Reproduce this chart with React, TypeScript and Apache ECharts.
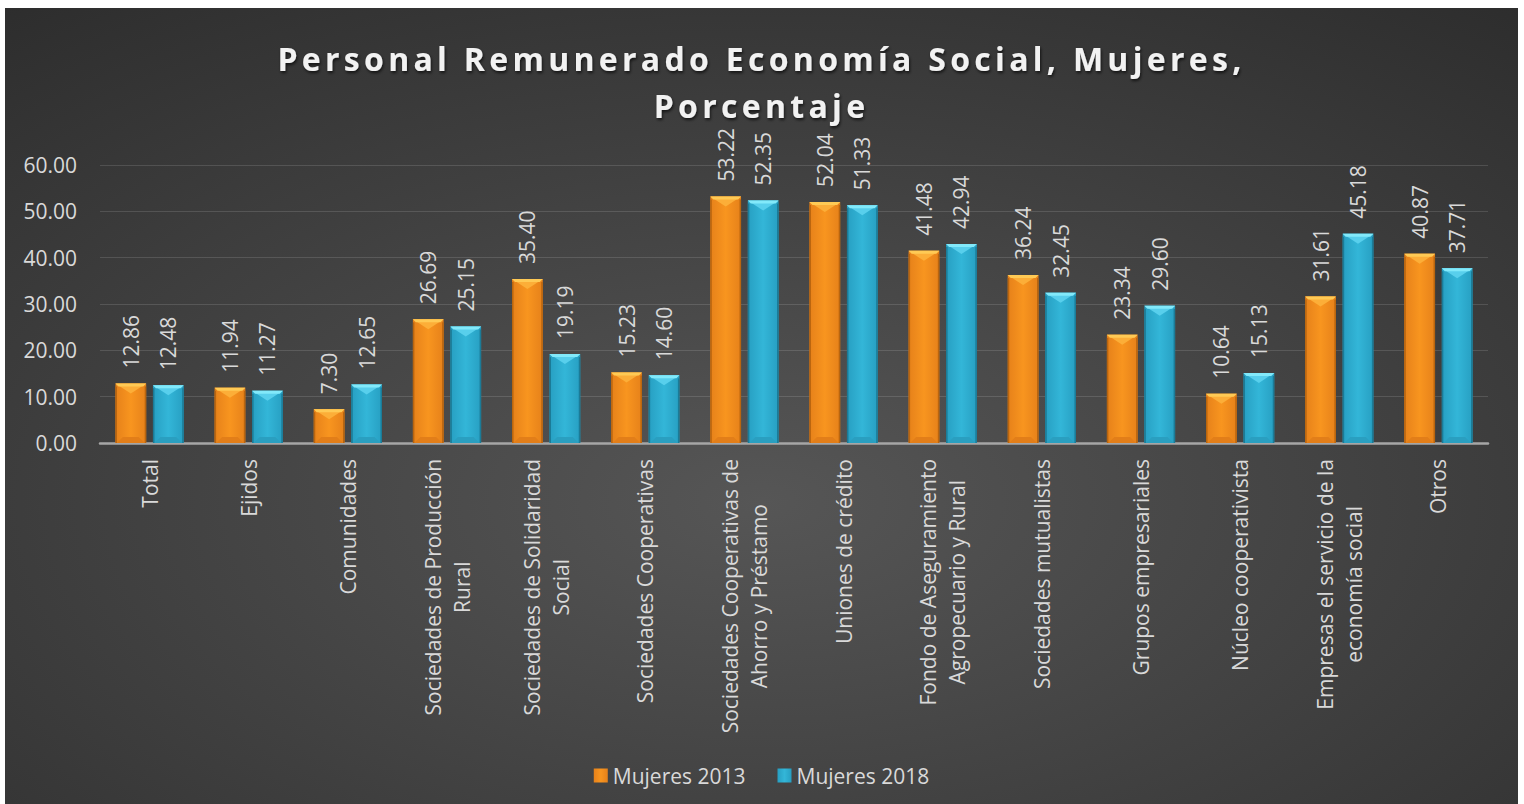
import React, { useEffect, useRef } from 'react';
import * as echarts from 'echarts';

const titleLines = ['Personal Remunerado Economía Social, Mujeres,', 'Porcentaje'];
const seriesNames = ['Mujeres 2013', 'Mujeres 2018'];
const categories = [
  'Total',
  'Ejidos',
  'Comunidades',
  'Sociedades de Producción\nRural',
  'Sociedades de Solidaridad\nSocial',
  'Sociedades Cooperativas',
  'Sociedades Cooperativas de\nAhorro y Préstamo',
  'Uniones de crédito',
  'Fondo de Aseguramiento\nAgropecuario y Rural',
  'Sociedades mutualistas',
  'Grupos empresariales',
  'Núcleo cooperativista',
  'Empresas el servicio de la\neconomía social',
  'Otros',
];
const mujeres2013 = [12.86, 11.94, 7.3, 26.69, 35.4, 15.23, 53.22, 52.04, 41.48, 36.24, 23.34, 10.64, 31.61, 40.87];
const mujeres2018 = [12.48, 11.27, 12.65, 25.15, 19.19, 14.6, 52.35, 51.33, 42.94, 32.45, 29.6, 15.13, 45.18, 37.71];
const yMin = 0;
const yMax = 60;
const yInterval = 10;

const FONT = '"Open Sans", "Noto Sans", sans-serif';
const LABEL_COLOR = '#d9d9d9';
const FS = 21;
const BAR_W = 0.31;
const BAR_GAP = 0.22;

const palettes = [
  { faceEdge: '#e6811a', face: '#f8951f', band: '#ffca55', chevron: '#fcae38', edge: '#b9650f', bottom: '#e27e19' },
  { faceEdge: '#279fc2', face: '#33b6d8', band: '#82e9fa', chevron: '#58cfec', edge: '#1b7b97', bottom: '#2a9fc0' },
];

function bevelSeries(name: string, values: number[], sIdx: number) {
  const pal = palettes[sIdx];
  const sign = sIdx === 0 ? -1 : 1;
  return {
    type: 'custom',
    name,
    silent: true,
    z: 5,
    data: values.map((v, i) => [i, v]),
    encode: { x: 0, y: 1 },
    renderItem: (params: any, api: any) => {
      const idx = api.value(0);
      const val = api.value(1);
      const bandW = api.size([1, 0])[0];
      const w = bandW * BAR_W;
      const g = w * BAR_GAP;
      const top = api.coord([idx, val]);
      const base = api.coord([idx, 0]);
      const cx = top[0] + (sign * (w + g)) / 2;
      const x0 = cx - w / 2;
      const x1 = cx + w / 2;
      const y0 = top[1];
      const y1 = base[1];
      const h = y1 - y0;
      const d = Math.min(10, h / 2);
      const bandH = Math.min(3, h / 4);
      const bd = Math.min(6, h / 3);
      return {
        type: 'group',
        children: [
          {
            type: 'polygon',
            shape: { points: [[x0 + 1.5, y1], [x1 - 1.5, y1], [x1 - 1.5 - bd, y1 - bd], [x0 + 1.5 + bd, y1 - bd]] },
            style: { fill: pal.bottom },
          },
          {
            type: 'polygon',
            shape: { points: [[x0, y0], [x1, y0], [cx, y0 + d]] },
            style: { fill: pal.chevron },
          },
          {
            type: 'polygon',
            shape: { points: [[x0, y0], [x1, y0], [x1 - bandH, y0 + bandH], [x0 + bandH, y0 + bandH]] },
            style: { fill: pal.band },
          },
          {
            type: 'rect',
            shape: { x: x0, y: y0 + bandH, width: 1.5, height: h - bandH },
            style: { fill: pal.edge },
          },
          {
            type: 'rect',
            shape: { x: x1 - 1.5, y: y0 + bandH, width: 1.5, height: h - bandH },
            style: { fill: pal.edge },
          },
        ],
      };
    },
  };
}

function barSeries(name: string, values: number[], sIdx: number) {
  const pal = palettes[sIdx];
  return {
    type: 'bar',
    name,
    data: values,
    barWidth: BAR_W * 100 + '%',
    barGap: BAR_GAP * 100 + '%',
    itemStyle: {
      color: new echarts.graphic.LinearGradient(0, 0, 1, 0, [
        { offset: 0, color: pal.faceEdge },
        { offset: 0.5, color: pal.face },
        { offset: 1, color: pal.faceEdge },
      ]),
    },
    z: 2,
    label: {
      show: true,
      position: 'top',
      rotate: 90,
      align: 'left',
      verticalAlign: 'middle',
      distance: 15,
      color: LABEL_COLOR,
      fontSize: FS,
      fontFamily: FONT,
      formatter: (p: any) => Number(p.value).toFixed(2),
    },
  };
}

export default function App() {
  const ref = useRef<HTMLDivElement>(null);
  useEffect(() => {
    if (!ref.current) return;
    const chart = echarts.init(ref.current, undefined, { renderer: 'svg' });
    const spaceTitle = () => {
      const texts = ref.current ? ref.current.querySelectorAll('text') : [];
      texts.forEach((t: any) => {
        const c = (t.textContent || '').trim();
        if (titleLines.includes(c)) t.style.letterSpacing = '4.3px';
      });
    };
    chart.setOption({
      animation: false,
      backgroundColor: new echarts.graphic.RadialGradient(0.5, 0.62, 1.0, [
        { offset: 0, color: '#565656' },
        { offset: 1, color: '#232323' },
      ]),
      title: {
        text: titleLines.join('\n'),
        left: 'center',
        top: 22,
        textStyle: {
          color: '#f2f2f2',
          fontFamily: FONT,
          fontWeight: 'bold',
          fontSize: 32,
          lineHeight: 47,
          textShadowColor: 'rgba(0,0,0,0.65)',
          textShadowBlur: 3,
          textShadowOffsetX: 1,
          textShadowOffsetY: 2,
        },
      },
      legend: {
        data: seriesNames,
        left: 'center',
        top: 752,
        itemWidth: 14,
        itemHeight: 14,
        itemGap: 32,
        icon: 'rect',
        textStyle: { color: LABEL_COLOR, fontSize: FS, fontFamily: FONT },
      },
      grid: { left: 95, right: 30, top: 157, bottom: 361 },
      xAxis: {
        type: 'category',
        data: categories,
        axisTick: { show: false },
        axisLine: { lineStyle: { color: '#a6a6a6', width: 2.5 } },
        axisLabel: {
          interval: 0,
          rotate: 90,
          margin: 16,
          color: LABEL_COLOR,
          fontSize: FS,
          fontFamily: FONT,
          lineHeight: 29,
          formatter: (v: string) =>
            v
              .split('\n')
              .map((l) => '{c|' + l + '}')
              .join('\n'),
          rich: { c: { align: 'center', color: LABEL_COLOR, fontSize: FS, fontFamily: FONT, lineHeight: 29 } },
        },
      },
      yAxis: {
        type: 'value',
        min: yMin,
        max: yMax,
        interval: yInterval,
        axisLine: { show: false },
        axisTick: { show: false },
        splitLine: { lineStyle: { color: 'rgba(255,255,255,0.13)', width: 1 } },
        axisLabel: {
          margin: 23,
          color: LABEL_COLOR,
          fontSize: FS,
          fontFamily: FONT,
          formatter: (v: number) => v.toFixed(2),
        },
      },
      series: [
        barSeries(seriesNames[0], mujeres2013, 0),
        barSeries(seriesNames[1], mujeres2018, 1),
        bevelSeries('bevel2013', mujeres2013, 0),
        bevelSeries('bevel2018', mujeres2018, 1),
      ],
    });
    spaceTitle();
    chart.on('finished', spaceTitle);
    return () => {
      chart.dispose();
    };
  }, []);
  return (
    <div
      ref={ref}
      style={{ position: 'absolute', left: 5, top: 8, width: 1513, height: 796 }}
    />
  );
}
